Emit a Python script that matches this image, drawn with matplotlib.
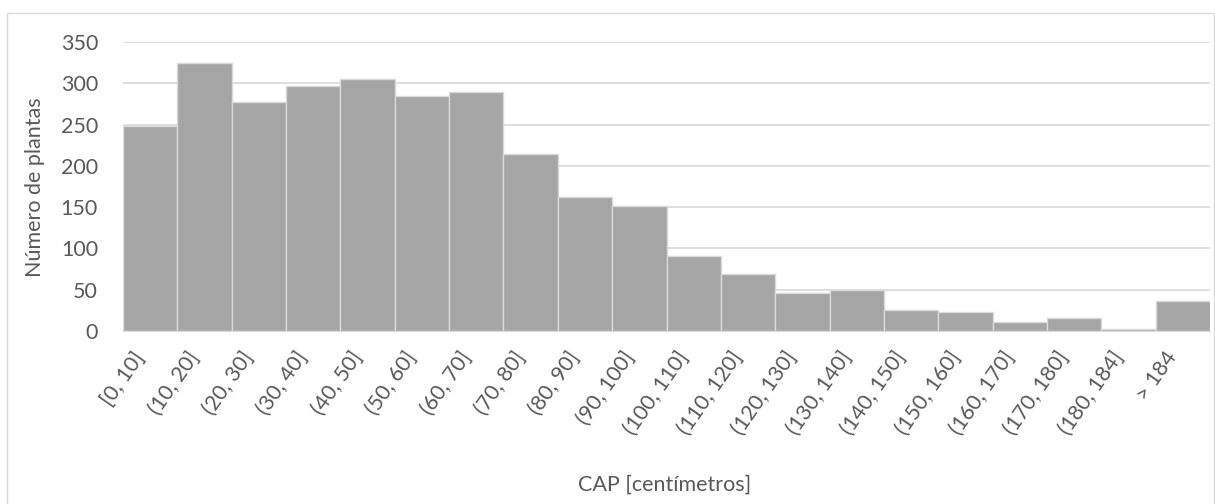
import numpy as np
import matplotlib.pyplot as plt
import matplotlib.transforms as mtrans
from matplotlib.patches import Rectangle

plt.rcParams['font.family'] = ['Lato', 'DejaVu Sans']

clases = ['[0, 10]', '(10, 20]', '(20, 30]', '(30, 40]', '(40, 50]', '(50, 60]',
          '(60, 70]', '(70, 80]', '(80, 90]', '(90, 100]', '(100, 110]', '(110, 120]',
          '(120, 130]', '(130, 140]', '(140, 150]', '(150, 160]', '(160, 170]',
          '(170, 180]', '(180, 184]', '> 184']
plantas = [248, 324, 277, 297, 305, 284, 289, 214, 162, 151, 91, 69,
           46, 50, 26, 23, 11, 16, 3, 36]
yticks = [0, 50, 100, 150, 200, 250, 300, 350]

txt = '#595959'
fs = 15.5
W, H = 1215, 504
fig = plt.figure(figsize=(W/100, H/100), dpi=100)
ax = fig.add_axes([123/W, 1 - 331/H, (1210-123)/W, (331-42)/H])

# chart border
fig.patches.append(Rectangle((7/W, -0.05), (1214-7)/W, 1 - 13/H + 0.05,
                             transform=fig.transFigure, fill=False,
                             edgecolor='#d9d9d9', lw=1))

x = np.arange(len(clases))
ax.bar(x, plantas, width=1.0, color='#a5a5a5', edgecolor='#d9d9d9', linewidth=1, zorder=3)
ax.set_xlim(-0.5, len(clases) - 0.5)
ax.set_ylim(0, 350)
ax.set_yticks(yticks)
ax.grid(axis='y', color='#d9d9d9', lw=1.2, zorder=0)
ax.set_xticks(x)
ax.set_xticklabels(clases, rotation=55, ha='right', va='top', rotation_mode='anchor')
ax.tick_params(axis='both', length=0, labelsize=fs, colors=txt)
ax.tick_params(axis='y', pad=18)
ax.tick_params(axis='x', pad=12)
shift = mtrans.ScaledTranslation(-18/100, 0, fig.dpi_scale_trans)
for lab in ax.get_xticklabels():
    lab.set_transform(lab.get_transform() + shift)
for s in ['top', 'right', 'left']:
    ax.spines[s].set_visible(False)
ax.spines['bottom'].set_color('#d9d9d9')
ax.spines['bottom'].set_zorder(4)

fig.text(35/W, 1 - 187/H, 'Número de plantas', fontsize=fs, color=txt,
         rotation=90, ha='center', va='center')
fig.text(665/W, 1 - 485/H, 'CAP [centímetros]', fontsize=fs, color=txt, ha='center', va='center')

plt.savefig('out.png', dpi=100)
